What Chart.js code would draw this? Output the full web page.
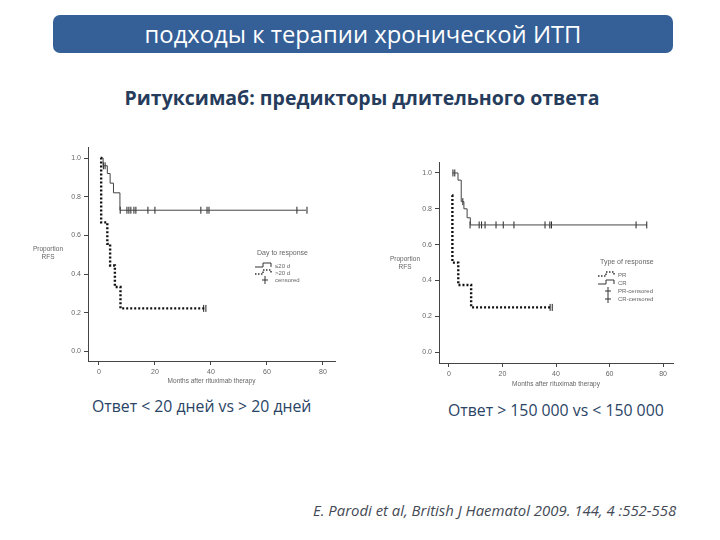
<!DOCTYPE html>
<html>
<head>
<meta charset="utf-8">
<script src="https://cdn.jsdelivr.net/npm/chart.js@4.4.1/dist/chart.umd.min.js"></script>
<style>
  body { margin: 0; width: 720px; height: 540px; background: #fff; position: relative; overflow: hidden; font-family: "Open Sans", sans-serif; }
  .abs { position: absolute; white-space: nowrap; }
  #bar { left: 53px; top: 15px; width: 620px; height: 38px; background: #355f97; border-radius: 7px;
         color: #fff; font-size: 23.8px; line-height: 38px; text-align: center; }
  #sub { left: 0; width: 724px; top: 84px; text-align: center; font-weight: bold; font-size: 19.5px; color: #263c5c; }
  .cap { font-size: 15.8px; color: #2a4466; }
  #cite { left: 313px; top: 500px; font-style: italic; font-size: 14.9px; color: #444a55; }
  canvas { position: absolute; }
</style>
</head>
<body>
<div id="bar" class="abs">подходы к терапии хронической ИТП</div>
<div id="sub" class="abs">Ритуксимаб: предикторы длительного ответа</div>
<div class="abs cap" style="left:92px;top:395px">Ответ &lt; 20 дней vs &gt; 20 дней</div>
<div class="abs cap" style="left:448px;top:399px">Ответ &gt; 150 000 vs &lt; 150 000</div>
<div id="cite" class="abs">E. Parodi et al, British J Haematol 2009. 144, 4 :552-558</div>

<canvas id="left" width="320" height="250" style="left:30px;top:140px"></canvas>
<canvas id="right" width="300" height="235" style="left:390px;top:155px"></canvas>

<script>
// ticks
const xTicks = [0, 20, 40, 60, 80]
const yTicks = [0, 0.2, 0.4, 0.6, 0.8, 1.0]

// left chart: day to response (<=20 d solid, >20 d dotted)
const leftSolidX = [1, 1.5, 3, 4, 5.2, 7.5, 74]
const leftSolidY = [1.0, 0.96, 0.92, 0.87, 0.82, 0.73, 0.73]
const leftSolidCensX = [1.6, 2.2, 7.6, 10, 10.7, 11.4, 12.5, 13.2, 17.5, 20, 36.4, 38.6, 39.3, 70.7, 74.3]
const leftSolidCensY = [0.96, 0.96, 0.73, 0.73, 0.73, 0.73, 0.73, 0.73, 0.73, 0.73, 0.73, 0.73, 0.73, 0.73, 0.73]
const leftDotX = [0.6, 0.8, 3, 4, 5.7, 7.7, 38]
const leftDotY = [1.0, 0.667, 0.556, 0.444, 0.333, 0.222, 0.222]
const leftDotCensX = [37.4, 38.2]
const leftDotCensY = [0.222, 0.222]

// right chart: type of response (CR solid, PR dotted)
const rightSolidX = [1.4, 3.4, 4.6, 5.6, 6.8, 8, 74]
const rightSolidY = [1.0, 0.96, 0.84, 0.80, 0.75, 0.71, 0.71]
const rightSolidCensX = [1.5, 2.2, 5.2, 7.9, 11.3, 12.2, 13.5, 17.6, 20.3, 24.3, 35.9, 37.7, 38.3, 69.9, 73.9]
const rightSolidCensY = [1.0, 1.0, 0.84, 0.71, 0.71, 0.71, 0.71, 0.71, 0.71, 0.71, 0.71, 0.71, 0.71, 0.71, 0.71]
const rightDotX = [1.2, 1.3, 3.5, 8.3, 38.5]
const rightDotY = [0.875, 0.5, 0.375, 0.25, 0.25]
const rightDotCensX = [37.8, 38.6]
const rightDotCensY = [0.25, 0.25]

const pts = (xs, ys) => xs.map((x, i) => ({ x, y: ys[i] }))
const tickFont = { family: 'Liberation Sans', size: 7 }
const grey = '#666'

// horizontal y title + small legend drawn on the canvas
const kmExtras = {
    id: 'kmExtras',
    afterDraw(chart, args, o) {
        const ctx = chart.ctx
        ctx.save()
        ctx.fillStyle = grey
        ctx.font = '6.5px "Liberation Sans"'
        ctx.textAlign = 'center'
        ctx.textBaseline = 'middle'
        ctx.fillText('Proportion', o.titleX, o.titleY)
        ctx.fillText('RFS', o.titleX, o.titleY + 8)

        ctx.textAlign = 'left'
        ctx.font = '7px "Liberation Sans"'
        ctx.fillText(o.legendTitle, o.lx, o.ly)
        ctx.font = '6px "Liberation Sans"'
        o.rows.forEach((r, i) => {
            const y = o.ly + 13 + i * o.rowGap
            const x = o.lx
            ctx.strokeStyle = '#333'
            ctx.lineWidth = r.type == 'dot' ? 1.5 : 1
            ctx.setLineDash(r.type == 'dot' ? [1.5, 1.5] : [])
            ctx.beginPath()
            if (r.type == 'cens') {
                ctx.moveTo(x + 8, y - 4); ctx.lineTo(x + 8, y + 4)
                ctx.moveTo(x + 5, y); ctx.lineTo(x + 11, y)
            } else {
                ctx.moveTo(x - 2, y + 1); ctx.lineTo(x + 6, y + 1); ctx.lineTo(x + 6, y - 3); ctx.lineTo(x + 14, y - 3); ctx.lineTo(x + 14, y + 1)
            }
            ctx.stroke()
            ctx.setLineDash([])
            ctx.fillText(r.label, x + 18, y)
        })
        ctx.restore()
    }
}

function makeChart(id, c) {
    // 'before' keeps the previous level up to the next time, then drops (Kaplan-Meier style)
    const line = (xs, ys, dot) => ({
        data: pts(xs, ys), showLine: true, stepped: 'before', pointRadius: 0,
        borderColor: dot ? '#111' : '#444', borderWidth: dot ? 2.4 : 1,
        borderDash: dot ? [2, 2] : []
    })
    const cens = (xs, ys) => ({
        data: pts(xs, ys), showLine: false, pointStyle: 'line', rotation: 90,
        pointRadius: 3.5, borderColor: '#222', borderWidth: 1
    })
    return new Chart(document.getElementById(id), {
        type: 'scatter',
        data: {
            datasets: [
                line(c.sx, c.sy, false), cens(c.scx, c.scy),
                line(c.dx, c.dy, true), cens(c.dcx, c.dcy)
            ]
        },
        options: {
            responsive: false, animation: false,
            layout: { padding: c.pad },
            plugins: { legend: { display: false }, tooltip: { enabled: false }, kmExtras: c.extras },
            scales: {
                x: {
                    type: 'linear', min: c.xmin, max: c.xmax,
                    afterBuildTicks: s => { s.ticks = xTicks.map(v => ({ value: v })) },
                    afterFit: s => { s.height = c.xh },
                    border: { color: '#444', width: 1 },
                    grid: { drawOnChartArea: false, tickLength: 4, color: '#444' },
                    ticks: { font: tickFont, color: grey, padding: 3 },
                    title: { display: true, text: 'Months after rituximab therapy', font: { family: 'Liberation Sans', size: 6.5 }, color: grey, padding: 0 }
                },
                y: {
                    type: 'linear', min: c.ymin, max: c.ymax,
                    afterBuildTicks: s => { s.ticks = yTicks.map(v => ({ value: v })) },
                    afterFit: s => { s.width = c.yw },
                    border: { color: '#444', width: 1 },
                    grid: { drawOnChartArea: false, tickLength: 4, color: '#444' },
                    ticks: { font: tickFont, color: grey, padding: 3, callback: v => v.toFixed(1) }
                }
            }
        },
        plugins: [kmExtras]
    })
}

makeChart('left', {
    sx: leftSolidX, sy: leftSolidY, scx: leftSolidCensX, scy: leftSolidCensY,
    dx: leftDotX, dy: leftDotY, dcx: leftDotCensX, dcy: leftDotCensY,
    xmin: -3.9, xmax: 84.3, ymin: -0.05, ymax: 1.056,
    pad: { top: 5, right: 15, left: 0, bottom: 5 }, yw: 58, xh: 24,
    extras: {
        titleX: 18, titleY: 109, legendTitle: 'Day to response', lx: 227, ly: 113, rowGap: 7,
        rows: [{ type: 'solid', label: '≤20 d' }, { type: 'dot', label: '>20 d' }, { type: 'cens', label: 'censored' }]
    }
})

makeChart('right', {
    sx: rightSolidX, sy: rightSolidY, scx: rightSolidCensX, scy: rightSolidCensY,
    dx: rightDotX, dy: rightDotY, dcx: rightDotCensX, dcy: rightDotCensY,
    xmin: -3.7, xmax: 83.7, ymin: -0.06, ymax: 1.06,
    pad: { top: 5, right: 17, left: 0, bottom: 2 }, yw: 49, xh: 25,
    extras: {
        titleX: 15, titleY: 104, legendTitle: 'Type of response', lx: 210, ly: 107, rowGap: 8,
        rows: [{ type: 'dot', label: 'PR' }, { type: 'solid', label: 'CR' }, { type: 'cens', label: 'PR-censored' }, { type: 'cens', label: 'CR-censored' }]
    }
})
</script>
</body>
</html>
